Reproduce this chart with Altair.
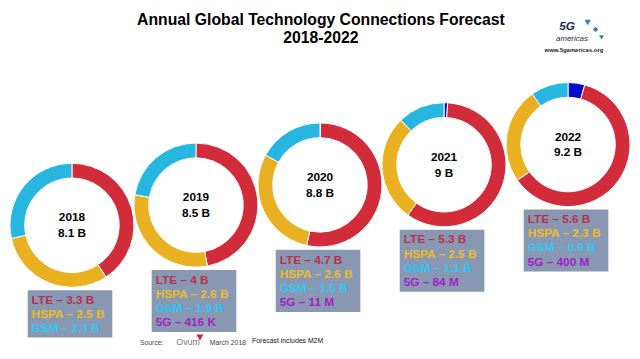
import altair as alt
import pandas as pd

# ---------------- data ----------------
years = [2018, 2019, 2020, 2021, 2022]
total_labels = ["8.1 B", "8.5 B", "8.8 B", "9 B", "9.2 B"]
techs = ["5G", "LTE", "HSPA", "GSM"]
g5 = [0.0, 0.000416, 0.011, 0.084, 0.4]
lte = [3.3, 4.0, 4.7, 5.3, 5.6]
hspa = [2.5, 2.6, 2.6, 2.5, 2.3]
gsm = [2.3, 1.9, 1.5, 1.1, 0.9]
lte_text = ["LTE – 3.3 B", "LTE – 4 B", "LTE – 4.7 B", "LTE – 5.3 B", "LTE – 5.6 B"]
hspa_text = ["HSPA – 2.5 B", "HSPA – 2.6 B", "HSPA – 2.6 B", "HSPA – 2.5 B", "HSPA – 2.3 B"]
gsm_text = ["GSM – 2.3 B", "GSM – 1.9 B", "GSM – 1.5 B", "GSM – 1.1 B", "GSM – 0.9 B"]
g5_text = ["", "5G – 416 K", "5G – 11 M", "5G – 84 M", "5G – 400 M"]

# ---------------- style ----------------
ring_colors = ["#0A0ACC", "#D22B3A", "#E9B021", "#27B6E0"]
text_colors = {"LTE": "#B8304A", "HSPA": "#EDBB2A", "GSM": "#2EC6F2", "5G": "#A21FC6"}
box_color = "#8898B2"
FONT = "Liberation Sans"

series = {"5G": g5, "LTE": lte, "HSPA": hspa, "GSM": gsm}
ring_rows = []
for i, y in enumerate(years):
    for k, t in enumerate(techs):
        ring_rows.append({"year": y, "tech": t, "order": k, "value": series[t][i]})
ring_df = pd.DataFrame(ring_rows)

year_df = pd.DataFrame({"year": years, "total": total_labels,
                        "has5g": [v > 0 for v in g5]})

line_rows = []
for i, y in enumerate(years):
    texts = [("LTE", lte_text[i]), ("HSPA", hspa_text[i]), ("GSM", gsm_text[i]), ("5G", g5_text[i])]
    for j, (t, s) in enumerate(texts):
        if s:
            line_rows.append({"year": y, "line": j, "text": s, "color": text_colors[t]})
line_df = pd.DataFrame(line_rows)

xs = alt.Scale(domain=[2018, 2022], range=[59, 563])
ys = alt.Scale(domain=[2018, 2022], range=[218, 136])
X = alt.X("year:Q", scale=xs, axis=None)
Y = alt.Y("year:Q", scale=ys, axis=None)

rings = (
    alt.Chart(ring_df)
    .transform_window(cum="sum(value)", groupby=["year"], sort=[alt.SortField("order")], frame=[None, 0])
    .transform_joinaggregate(total="sum(value)", groupby=["year"])
    .transform_calculate(t0="2*PI*(datum.cum-datum.value)/datum.total",
                         t1="2*PI*datum.cum/datum.total")
    .transform_filter("datum.value > 0")
    .mark_arc(radius=63, radius2=48, stroke="white", strokeWidth=1)
    .encode(
        x=X, y=Y,
        theta=alt.Theta("t0:Q", scale=None, stack=None),
        theta2="t1:Q",
        color=alt.Color("tech:N", scale=alt.Scale(domain=techs, range=ring_colors), legend=None),
    )
)

base_year = alt.Chart(year_df)
year_txt = base_year.mark_text(fontSize=12, fontWeight="bold", font=FONT, color="black", dy=-8).encode(
    x=X, y=Y, text="year:N")
total_txt = base_year.mark_text(fontSize=12, fontWeight="bold", font=FONT, color="black", dy=8).encode(
    x=X, y=Y, text="total:N")

box3 = base_year.transform_filter("!datum.has5g").mark_rect(
    color=box_color, xOffset=-45, x2Offset=41, yOffset=66, y2Offset=114).encode(
    x=X, x2="year:Q", y=Y, y2="year:Q")
box4 = base_year.transform_filter("datum.has5g").mark_rect(
    color=box_color, xOffset=-45, x2Offset=41, yOffset=66, y2Offset=129).encode(
    x=X, x2="year:Q", y=Y, y2="year:Q")

line_layers = []
for j in range(4):
    line_layers.append(
        alt.Chart(line_df).transform_filter(f"datum.line == {j}")
        .mark_text(align="left", baseline="middle", fontSize=12, fontWeight="bold", font=FONT,
                   dx=-41, dy=76 + 14.3 * j)
        .encode(x=X, y=Y, text="text:N", color=alt.Color("color:N", scale=None))
    )

def label(text, x, y, size, weight="normal", color="black", style="normal", align="center"):
    return alt.Chart(pd.DataFrame({"t": [text]})).mark_text(
        fontSize=size, fontWeight=weight, color=color, font=FONT, fontStyle=style, align=align,
        baseline="middle").encode(x=alt.value(x), y=alt.value(y), text="t:N")

def blob(x, y, size, color, shape="triangle-down"):
    return alt.Chart(pd.DataFrame({"a": [0]})).mark_point(
        filled=True, shape=shape, color=color, opacity=1, size=size).encode(
        x=alt.value(x), y=alt.value(y))

title1 = label("Annual Global Technology Connections Forecast", 312, 10, 16, "bold")
title2 = label("2018-2022", 312, 28, 16, "bold")
logo1 = label("5G", 562, 16, 12, "bold", "#1a2a4a", "italic")
logo2 = label("americas", 567, 29, 8, "normal", "#1a2a4a", "italic")
logo3 = label("www.5gamericas.org", 569, 40, 6, "bold", "#222222")
logo_a = blob(583, 12, 40, "#2A7FC4")
logo_b = blob(591, 19, 30, "#2A7FC4", "diamond")
logo_c = blob(597, 27, 25, "#2A7FC4")
src1 = label("Source:", 128, 338, 7, "normal", "#444444", align="left")
src2 = label("Ovum", 165, 337, 9, "normal", "#777777", align="left")
src3 = label("March 2018", 199, 338, 7, "normal", "#444444", align="left")
src4 = label("Forecast includes M2M", 242, 336, 7, "normal", "#111111", align="left")
ovum = blob(189, 332, 50, "#C8283C")

chart = alt.layer(
    rings, year_txt, total_txt, box3, box4, *line_layers,
    title1, title2, logo_a, logo_b, logo_c, logo1, logo2, logo3, src1, src2, src3, src4, ovum,
).properties(width=624, height=343, padding=0).configure_view(stroke=None)

chart.save("out.html", embed_options={"renderer": "svg", "actions": False})
